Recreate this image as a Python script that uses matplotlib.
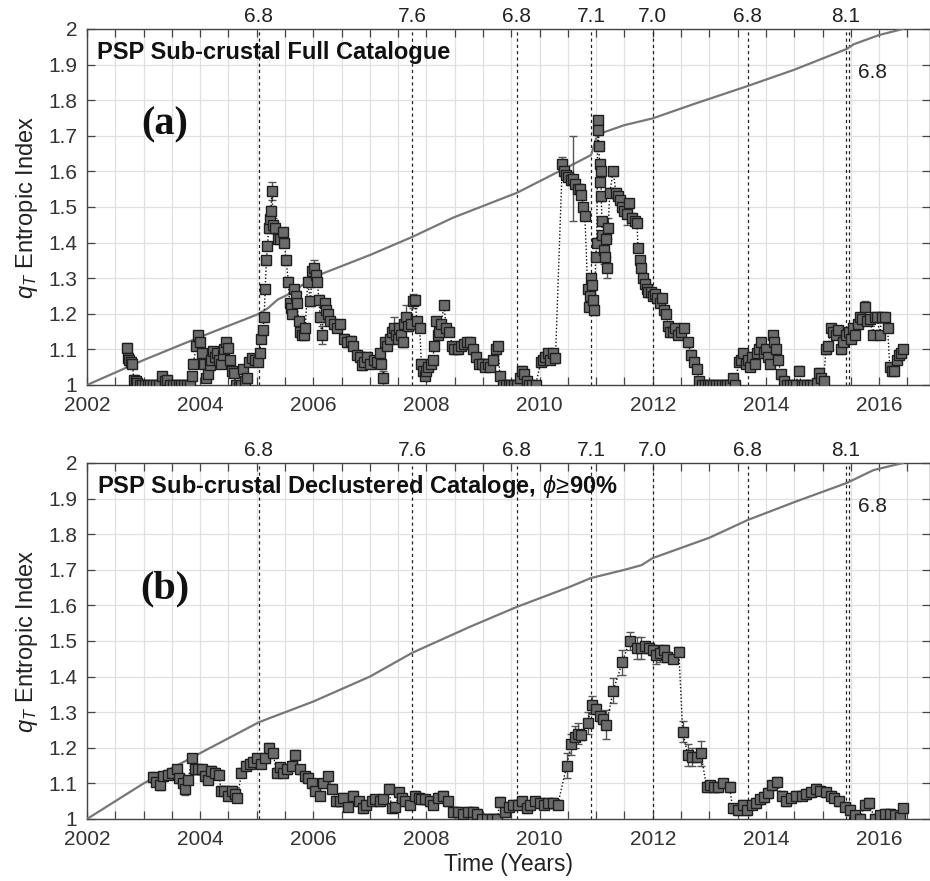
import matplotlib
matplotlib.use("Agg")
import matplotlib.pyplot as plt
import matplotlib.transforms as mtransforms
from matplotlib.ticker import MultipleLocator

plt.rcParams["font.family"] = ["Liberation Sans", "DejaVu Sans"]
plt.rcParams["mathtext.fontset"] = "custom"
plt.rcParams["mathtext.rm"] = "Liberation Sans"
plt.rcParams["mathtext.it"] = "Liberation Sans:italic"
plt.rcParams["mathtext.bf"] = "Liberation Sans:bold"

# earthquakes (time, magnitude); last one is labelled inside the axes
quake_t = [2005.04, 2007.75, 2009.60, 2010.91, 2012.00, 2013.68, 2015.41, 2015.47]
quake_mag = ["6.8", "7.6", "6.8", "7.1", "7.0", "6.8", "8.1", "6.8"]

# (a) full catalogue
t_a = [2002.70, 2002.72, 2002.75, 2002.78, 2002.80, 2002.83, 2002.86, 2002.89, 2002.93,
       2002.97, 2003.02, 2003.07, 2003.12, 2003.17, 2003.22, 2003.27, 2003.33, 2003.37,
       2003.42, 2003.47, 2003.52, 2003.57, 2003.62, 2003.67, 2003.72, 2003.77, 2003.82,
       2003.85, 2003.88, 2003.93, 2003.96, 2003.99, 2004.03, 2004.06, 2004.10, 2004.14,
       2004.17, 2004.20, 2004.23, 2004.27, 2004.30, 2004.33, 2004.37, 2004.40, 2004.43,
       2004.46, 2004.49, 2004.52, 2004.56, 2004.60, 2004.63, 2004.68, 2004.72, 2004.76,
       2004.79, 2004.82, 2004.86, 2004.92, 2004.97, 2005.02, 2005.05, 2005.08, 2005.11,
       2005.13, 2005.15, 2005.17, 2005.19, 2005.21, 2005.23, 2005.25, 2005.27, 2005.29,
       2005.33, 2005.37, 2005.42, 2005.46, 2005.49, 2005.52, 2005.56, 2005.58, 2005.61,
       2005.63, 2005.66, 2005.69, 2005.71, 2005.74, 2005.77, 2005.80, 2005.83, 2005.86,
       2005.90, 2005.95, 2005.98, 2006.01, 2006.04, 2006.07, 2006.10, 2006.12, 2006.15,
       2006.20, 2006.23, 2006.26, 2006.30, 2006.36, 2006.42, 2006.48, 2006.54, 2006.60,
       2006.66, 2006.71, 2006.77, 2006.83, 2006.86, 2006.90, 2006.95, 2007.01, 2007.07,
       2007.12, 2007.17, 2007.20, 2007.24, 2007.27, 2007.31, 2007.36, 2007.39, 2007.43,
       2007.46, 2007.49, 2007.52, 2007.55, 2007.58, 2007.61, 2007.64, 2007.67, 2007.72,
       2007.76, 2007.80, 2007.83, 2007.88, 2007.91, 2007.94, 2007.97, 2008.00, 2008.03,
       2008.08, 2008.11, 2008.14, 2008.17, 2008.20, 2008.23, 2008.26, 2008.31, 2008.35,
       2008.40, 2008.46, 2008.49, 2008.55, 2008.61, 2008.66, 2008.72, 2008.77, 2008.82,
       2008.88, 2008.93, 2008.98, 2009.03, 2009.08, 2009.13, 2009.18, 2009.23, 2009.26,
       2009.30, 2009.35, 2009.40, 2009.45, 2009.50, 2009.55, 2009.60, 2009.65, 2009.69,
       2009.73, 2009.77, 2009.82, 2009.87, 2009.93, 2010.02, 2010.06, 2010.10, 2010.14,
       2010.18, 2010.23, 2010.28, 2010.40, 2010.43, 2010.47, 2010.51, 2010.55, 2010.59,
       2010.63, 2010.67, 2010.71, 2010.74, 2010.77, 2010.80, 2010.85, 2010.87, 2010.89,
       2010.91, 2010.93, 2010.95, 2010.97, 2010.99, 2011.01, 2011.03, 2011.04, 2011.05,
       2011.06, 2011.07, 2011.08, 2011.09, 2011.10, 2011.11, 2011.13, 2011.15, 2011.17,
       2011.19, 2011.21, 2011.24, 2011.30, 2011.35, 2011.38, 2011.42, 2011.46, 2011.50,
       2011.54, 2011.58, 2011.63, 2011.68, 2011.72, 2011.74, 2011.77, 2011.80, 2011.83,
       2011.86, 2011.89, 2011.92, 2011.96, 2012.00, 2012.04, 2012.08, 2012.12, 2012.16,
       2012.20, 2012.24, 2012.27, 2012.31, 2012.35, 2012.40, 2012.45, 2012.50, 2012.55,
       2012.62, 2012.68, 2012.73, 2012.78, 2012.82, 2012.87, 2012.92, 2012.97, 2013.02,
       2013.07, 2013.12, 2013.17, 2013.22, 2013.27, 2013.32, 2013.37, 2013.41, 2013.45,
       2013.52, 2013.56, 2013.60, 2013.64, 2013.68, 2013.72, 2013.76, 2013.80, 2013.84,
       2013.88, 2013.92, 2013.96, 2014.00, 2014.04, 2014.08, 2014.12, 2014.15, 2014.18,
       2014.22, 2014.26, 2014.32, 2014.37, 2014.42, 2014.47, 2014.53, 2014.58, 2014.63,
       2014.68, 2014.73, 2014.78, 2014.84, 2014.90, 2014.94, 2014.98, 2015.02, 2015.06,
       2015.10, 2015.15, 2015.19, 2015.23, 2015.28, 2015.33, 2015.37, 2015.41, 2015.46,
       2015.50, 2015.54, 2015.58, 2015.62, 2015.66, 2015.70, 2015.75, 2015.79, 2015.84,
       2015.89, 2015.93, 2015.97, 2016.01, 2016.05, 2016.10, 2016.15, 2016.19, 2016.23,
       2016.27, 2016.31, 2016.35, 2016.39, 2016.43]
q_a = [1.105, 1.075, 1.070, 1.065, 1.060, 1.015, 1.010, 1.005, 1.000,
       1.000, 1.000, 1.000, 1.000, 1.000, 1.000, 1.000, 1.025, 1.010,
       1.015, 1.000, 1.000, 1.000, 1.000, 1.000, 1.000, 1.000, 1.000,
       1.025, 1.060, 1.110, 1.140, 1.120, 1.090, 1.060, 1.020, 1.030,
       1.055, 1.070, 1.095, 1.080, 1.090, 1.070, 1.060, 1.085, 1.100,
       1.120, 1.105, 1.070, 1.040, 1.035, 1.000, 0.995, 1.000, 1.045,
       1.010, 1.020, 1.065, 1.075, 1.070, 1.065, 1.090, 1.130, 1.155,
       1.190, 1.270, 1.350, 1.390, 1.440, 1.465, 1.490, 1.545, 1.450,
       1.440, 1.410, 1.410, 1.430, 1.400, 1.350, 1.290, 1.230, 1.215,
       1.200, 1.270, 1.250, 1.230, 1.180, 1.150, 1.140, 1.140, 1.160,
       1.290, 1.235, 1.320, 1.330, 1.310, 1.290, 1.240, 1.190, 1.140,
       1.230, 1.210, 1.200, 1.180, 1.170, 1.160, 1.170, 1.130, 1.120,
       1.125, 1.110, 1.085, 1.080, 1.055, 1.065, 1.080, 1.060, 1.070,
       1.065, 1.090, 1.060, 1.020, 1.120, 1.110, 1.130, 1.150, 1.160,
       1.140, 1.130, 1.160, 1.140, 1.120, 1.170, 1.190, 1.165, 1.170,
       1.235, 1.240, 1.180, 1.160, 1.060, 1.040, 1.025, 1.040, 1.050,
       1.060, 1.070, 1.110, 1.180, 1.140, 1.150, 1.170, 1.225, 1.160,
       1.150, 1.110, 1.100, 1.100, 1.110, 1.115, 1.120, 1.120, 1.100,
       1.080, 1.060, 1.060, 1.050, 1.060, 1.050, 1.070, 1.100, 1.110,
       1.025, 1.000, 1.000, 1.000, 1.000, 1.000, 1.000, 1.020, 1.040,
       1.030, 1.010, 1.000, 1.000, 1.000, 1.065, 1.070, 1.080, 1.090,
       1.070, 1.090, 1.075, 1.620, 1.600, 1.590, 1.585, 1.575, 1.580,
       1.565, 1.550, 1.550, 1.535, 1.500, 1.475, 1.270, 1.220, 1.250,
       1.300, 1.280, 1.240, 1.210, 1.360, 1.400, 1.745, 1.715, 1.670,
       1.620, 1.570, 1.600, 1.530, 1.460, 1.420, 1.380, 1.360, 1.410,
       1.330, 1.440, 1.540, 1.600, 1.540, 1.530, 1.520, 1.500, 1.490,
       1.480, 1.510, 1.470, 1.460, 1.455, 1.385, 1.350, 1.330, 1.300,
       1.285, 1.270, 1.260, 1.260, 1.250, 1.255, 1.245, 1.230, 1.245,
       1.210, 1.200, 1.165, 1.150, 1.150, 1.160, 1.140, 1.150, 1.160,
       1.120, 1.085, 1.065, 1.045, 1.010, 1.000, 1.000, 1.000, 1.000,
       1.000, 1.000, 1.000, 1.000, 1.000, 1.000, 1.000, 1.020, 1.000,
       1.065, 1.070, 1.090, 1.060, 1.070, 1.050, 1.080, 1.060, 1.090,
       1.100, 1.120, 1.090, 1.100, 1.080, 1.060, 1.140, 1.120, 1.100,
       1.070, 1.030, 1.010, 1.000, 1.000, 1.000, 1.000, 1.040, 1.000,
       1.000, 1.000, 1.000, 1.000, 1.005, 1.035, 1.020, 1.010, 1.100,
       1.110, 1.160, 1.150, 1.140, 1.155, 1.100, 1.120, 1.140, 1.150,
       1.130, 1.160, 1.140, 1.170, 1.190, 1.185, 1.220, 1.180, 1.185,
       1.140, 1.190, 1.190, 1.140, 1.190, 1.190, 1.160, 1.050, 1.040,
       1.040, 1.070, 1.085, 1.090, 1.100]
err_a_default = 0.012
err_a_big = {2005.27: 0.025, 2005.29: 0.02, 2006.01: 0.022, 2006.15: 0.025,
             2007.24: 0.02, 2007.43: 0.03, 2007.64: 0.035, 2007.76: 0.02,
             2010.40: 0.02, 2010.59: 0.12, 2010.93: 0.03, 2011.13: 0.04,
             2011.19: 0.03, 2011.21: 0.03, 2011.54: 0.03, 2015.75: 0.015}

cum_t_a = [2002.0, 2003.0, 2004.0, 2005.04, 2005.20, 2005.37, 2005.54, 2005.71, 2006.0,
           2007.0, 2007.75, 2008.47, 2009.60, 2010.28, 2010.63, 2010.91, 2011.0, 2011.1,
           2011.5, 2012.0, 2012.74, 2013.68, 2014.49, 2015.43, 2015.55, 2016.0, 2016.42]
cum_q_a = [1.000, 1.070, 1.135, 1.200, 1.216, 1.240, 1.253, 1.270, 1.303,
           1.365, 1.416, 1.470, 1.540, 1.595, 1.623, 1.646, 1.694, 1.708,
           1.730, 1.749, 1.790, 1.840, 1.885, 1.944, 1.957, 1.983, 2.000]

# (b) declustered catalogue
t_b = [2003.17, 2003.22, 2003.29, 2003.34, 2003.43, 2003.50, 2003.59, 2003.63, 2003.70,
       2003.74, 2003.79, 2003.85, 2003.91, 2003.97, 2004.03, 2004.09, 2004.14, 2004.20,
       2004.26, 2004.33, 2004.37, 2004.43, 2004.50, 2004.56, 2004.61, 2004.66, 2004.73,
       2004.81, 2004.88, 2004.94, 2005.00, 2005.08, 2005.15, 2005.21, 2005.29, 2005.35,
       2005.41, 2005.47, 2005.53, 2005.62, 2005.68, 2005.76, 2005.85, 2005.91, 2005.97,
       2006.03, 2006.12, 2006.17, 2006.26, 2006.33, 2006.40, 2006.47, 2006.53, 2006.62,
       2006.71, 2006.80, 2006.88, 2006.94, 2007.03, 2007.09, 2007.18, 2007.24, 2007.33,
       2007.39, 2007.45, 2007.52, 2007.56, 2007.62, 2007.71, 2007.80, 2007.86, 2007.91,
       2007.97, 2008.06, 2008.12, 2008.20, 2008.29, 2008.38, 2008.47, 2008.56, 2008.65,
       2008.74, 2008.82, 2008.90, 2008.98, 2009.07, 2009.16, 2009.25, 2009.30, 2009.38,
       2009.45, 2009.53, 2009.61, 2009.69, 2009.77, 2009.83, 2009.91, 2010.00, 2010.08,
       2010.15, 2010.23, 2010.32, 2010.48, 2010.56, 2010.62, 2010.68, 2010.74, 2010.85,
       2010.92, 2011.00, 2011.06, 2011.12, 2011.18, 2011.30, 2011.46, 2011.59, 2011.72,
       2011.80, 2011.86, 2011.94, 2012.00, 2012.06, 2012.12, 2012.20, 2012.26, 2012.35,
       2012.46, 2012.53, 2012.62, 2012.70, 2012.78, 2012.85, 2012.95, 2013.01, 2013.08,
       2013.15, 2013.24, 2013.36, 2013.41, 2013.50, 2013.59, 2013.66, 2013.75, 2013.83,
       2013.90, 2013.96, 2014.03, 2014.11, 2014.19, 2014.28, 2014.36, 2014.45, 2014.53,
       2014.63, 2014.71, 2014.80, 2014.88, 2014.95, 2015.07, 2015.15, 2015.21, 2015.30,
       2015.39, 2015.48, 2015.57, 2015.66, 2015.75, 2015.83, 2015.92, 2016.01, 2016.10,
       2016.19, 2016.28, 2016.37, 2016.42]
q_b = [1.118, 1.105, 1.095, 1.120, 1.125, 1.130, 1.140, 1.115, 1.100,
       1.085, 1.110, 1.170, 1.140, 1.140, 1.140, 1.120, 1.110, 1.135,
       1.130, 1.125, 1.080, 1.080, 1.065, 1.080, 1.070, 1.060, 1.130,
       1.150, 1.155, 1.160, 1.170, 1.155, 1.170, 1.200, 1.185, 1.130,
       1.145, 1.130, 1.140, 1.150, 1.180, 1.140, 1.120, 1.115, 1.100,
       1.080, 1.065, 1.100, 1.120, 1.085, 1.050, 1.050, 1.060, 1.035,
       1.065, 1.050, 1.030, 1.040, 1.050, 1.055, 1.050, 1.055, 1.085,
       1.030, 1.035, 1.075, 1.060, 1.050, 1.040, 1.065, 1.060, 1.055,
       1.055, 1.050, 1.040, 1.060, 1.065, 1.050, 1.020, 1.020, 1.015,
       1.020, 1.020, 1.015, 1.000, 1.000, 1.000, 1.000, 1.048, 1.020,
       1.035, 1.040, 1.040, 1.050, 1.030, 1.040, 1.050, 1.045, 1.040,
       1.045, 1.045, 1.040, 1.150, 1.210, 1.230, 1.240, 1.235, 1.270,
       1.320, 1.310, 1.290, 1.280, 1.265, 1.360, 1.440, 1.500, 1.480,
       1.480, 1.485, 1.480, 1.475, 1.460, 1.465, 1.475, 1.455, 1.450,
       1.470, 1.245, 1.180, 1.175, 1.175, 1.185, 1.090, 1.095, 1.090,
       1.090, 1.100, 1.090, 1.030, 1.025, 1.040, 1.025, 1.040, 1.045,
       1.055, 1.062, 1.073, 1.095, 1.105, 1.065, 1.050, 1.060, 1.065,
       1.065, 1.070, 1.075, 1.085, 1.080, 1.075, 1.065, 1.060, 1.050,
       1.035, 1.025, 1.010, 1.000, 1.040, 1.045, 1.000, 1.010, 1.015,
       1.015, 1.010, 1.005, 1.030]
err_b_default = 0.013
err_b_big = {2003.74: 0.018, 2010.48: 0.035, 2010.56: 0.03, 2010.62: 0.03, 2010.68: 0.03,
             2010.85: 0.03, 2010.92: 0.025, 2011.18: 0.04, 2011.30: 0.035, 2011.46: 0.035,
             2011.59: 0.025, 2011.72: 0.03, 2011.80: 0.03, 2012.06: 0.025, 2012.12: 0.025,
             2012.53: 0.03, 2012.62: 0.03, 2012.70: 0.025, 2012.85: 0.035}

cum_t_b = [2002.0, 2003.0, 2004.0, 2005.04, 2006.0, 2007.0, 2007.75, 2008.77, 2009.60,
           2010.0, 2010.5, 2010.91, 2011.5, 2011.8, 2012.0, 2013.0, 2013.68, 2014.5,
           2015.43, 2015.9, 2016.42]
cum_q_b = [1.000, 1.100, 1.185, 1.272, 1.330, 1.400, 1.467, 1.540, 1.596,
           1.620, 1.650, 1.677, 1.700, 1.713, 1.733, 1.790, 1.840, 1.890,
           1.944, 1.980, 2.000]


def draw_panel(ax, t, q, err_default, err_big, cum_t, cum_q, title, tag, tag_y):
    err = [err_big.get(x, err_default) for x in t]
    ax.set_xlim(2002, 2016.9)
    ax.set_ylim(1, 2)
    ax.xaxis.set_major_locator(MultipleLocator(2))
    ax.xaxis.set_minor_locator(MultipleLocator(0.5))
    ax.set_yticks([1 + i / 10 for i in range(11)])
    ax.set_yticklabels(["1", "1.1", "1.2", "1.3", "1.4", "1.5", "1.6", "1.7", "1.8", "1.9", "2"])
    ax.grid(True, which="both", color="#e0e0e0", lw=0.9)
    ax.set_axisbelow(True)
    ax.tick_params(which="both", direction="in", top=True, right=True, length=6,
                   width=0.9, color="#444444", labelsize=15, labelcolor="#333333")
    ax.tick_params(axis="x", pad=8)
    ax.tick_params(axis="y", pad=7)
    for sp in ax.spines.values():
        sp.set_color("#444444")
        sp.set_linewidth(1.0)

    trans = mtransforms.blended_transform_factory(ax.transData, ax.transAxes)
    for x, m in zip(quake_t[:-1], quake_mag[:-1]):
        ax.axvline(x, color="#222222", lw=0.9, ls=(0, (2.5, 2.5)), zorder=2)
        ax.text(x, 1.008, m, transform=trans, ha="center", va="bottom",
                fontsize=15, color="#222222")
    ax.axvline(quake_t[-1], color="#222222", lw=0.9, ls=(0, (2.5, 2.5)), zorder=2)
    ax.text(quake_t[-1] + 0.42, 1.879, quake_mag[-1], ha="center", va="center",
            fontsize=15, color="#222222")

    ax.plot(cum_t, cum_q, color="#777777", lw=1.6, zorder=3)
    ax.errorbar(t, q, yerr=err, fmt="s", ls=(0, (1, 1.5)), color="#111111", lw=1.0,
                ms=6.8, mfc="#6b6b6b", mec="#1e1e1e", mew=1.0,
                ecolor="#555555", elinewidth=1.0, capsize=3, capthick=0.8, zorder=4)

    ax.text(2002.18, 1.933, title, fontsize=17, fontweight="bold", va="center",
            ha="left", color="#111111", zorder=6)
    ax.text(2003.38, tag_y, tag, fontsize=29, fontweight="bold", va="center",
            ha="center", family="Liberation Serif", color="#111111", zorder=6)
    ax.set_ylabel(r"$q_T$ Entropic Index", fontsize=17, color="#222222")
    ax.yaxis.set_label_coords(-0.056, 0.5)


fig = plt.figure(figsize=(9.30, 8.81), dpi=100)
ax1 = fig.add_axes([87 / 930, 1 - 385 / 881, 843 / 930, 356 / 881])
ax2 = fig.add_axes([87 / 930, 1 - 819 / 881, 843 / 930, 356 / 881])

draw_panel(ax1, t_a, q_a, err_a_default, err_a_big, cum_t_a, cum_q_a,
           "PSP Sub-crustal Full Catalogue", "(a)", 1.73)
draw_panel(ax2, t_b, q_b, err_b_default, err_b_big, cum_t_b, cum_q_b,
           r"PSP Sub-crustal Declustered Cataloge, $\phi\!\geq\!$90%", "(b)", 1.645)
ax2.set_xlabel("Time (Years)", fontsize=16.5, color="#222222", labelpad=3)

fig.savefig("out.png", dpi=100, facecolor="white")
